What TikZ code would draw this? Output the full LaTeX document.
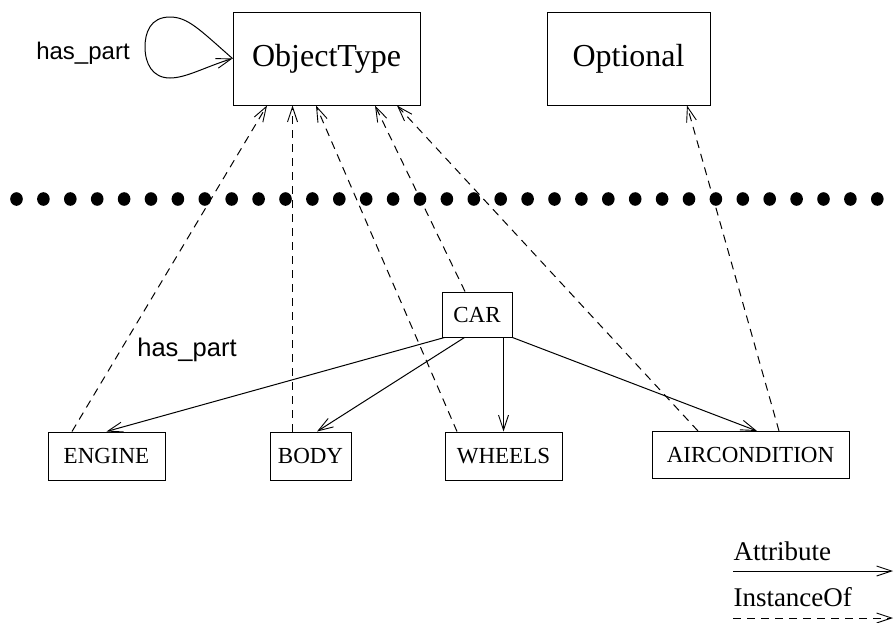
\documentclass[tikz,border=0pt]{standalone}
\usepackage{fontspec}
\setmainfont{Liberation Serif}
\newfontfamily\sanslab{Liberation Sans}
\usetikzlibrary{arrows.meta,calc}

\begin{document}
\begin{tikzpicture}[x=1pt,y=-1pt,
  line width=1pt,
  tip/.tip={Straight Barb[length=15pt,width=10pt,line width=0.9pt]},
  box/.style={draw, rectangle, inner sep=0pt, anchor=center},
  bigbox/.style={box, font=\fontsize{32}{36}\selectfont},
  smallbox/.style={box, font=\fontsize{23}{26}\selectfont},
  attr/.style={-tip},
  inst/.style={-tip, dash pattern=on 8pt off 6pt},
  lab/.style={font=\sanslab\fontsize{24}{27}\selectfont, inner sep=0pt},
  legtext/.style={font=\fontsize{27}{31}\selectfont, inner sep=0pt, anchor=west},
  dotmark/.style={fill=black, draw=none}
]
\useasboundingbox (0,0) rectangle (894,622);

% concept level
\node[bigbox, minimum width=187pt, minimum height=93pt] (obj) at (326.5,58.5) {ObjectType};
\node[bigbox, minimum width=163pt, minimum height=93pt] (opt) at (628.5,58.5) {Optional};

% self loop on ObjectType
\coordinate (lp) at (obj.west);
\node[lab] (hp1) at (83,53) {has\_part};
\draw[attr] (lp) .. controls (200,30) and (188,17) .. (170,17)
  .. controls (150,17) and (145,33) .. (145,47)
  .. controls (145,63) and (152,78) .. (170,78)
  .. controls (186,78) and (205,67) .. (lp);

% separator between levels
\foreach \i in {0,...,32}
  \fill[dotmark] (16.5+26.9*\i,199) ellipse [x radius=6.3pt, y radius=6.8pt];

% instance level
\node[smallbox, minimum width=70pt, minimum height=45pt] (car) at (477,314.5) {CAR};
\node[smallbox, minimum width=117pt, minimum height=48pt] (engine) at (106.5,456) {ENGINE};
\node[smallbox, minimum width=81pt, minimum height=48pt] (body) at (310.5,456) {BODY};
\node[smallbox, minimum width=117pt, minimum height=48pt] (wheels) at (503.5,456) {WHEELS};
\node[smallbox, minimum width=197pt, minimum height=47pt] (aircon) at (750.5,455) {AIRCONDITION};

\node[lab, font=\sanslab\fontsize{25.5}{28}\selectfont] (hp2) at (187,350) {has\_part};

% attributes of CAR
\draw[attr] ($(car.south west)+(3,0)$) -- (engine.north);
\draw[attr] ($(car.south west)+(23,0)$) -- ($(body.north)+(6.5,0)$);
\draw[attr] (wheels.north |- car.south) -- (wheels.north);
\draw[attr] (car.south east) -- ($(aircon.north)+(6.5,0)$);

% instance-of links
\coordinate (objb) at ($(obj.south)+(-34,0)$);
\draw[inst] ($(engine.north)+(-34.5,0)$) -- ($(obj.south)+(-59.5,0)$);
\draw[inst] (objb |- body.north) -- (objb);
\draw[inst] ($(wheels.north)+(-46.5,0)$) -- ($(obj.south)+(-10.5,0)$);
\draw[inst] ($(car.north)+(-12,0)$) -- ($(obj.south)+(48.5,0)$);
\draw[inst] ($(aircon.north)+(-52.5,0)$) -- ($(obj.south)+(70.5,0)$);
\draw[inst] ($(aircon.north)+(28.5,0)$) -- ($(opt.south)+(58.5,0)$);

% legend
\node[legtext] (la) at (733,551) {Attribute};
\coordinate (la1) at (733,571);
\coordinate (la2) at (893,571);
\draw[attr] (la1) -- (la2);
\node[legtext] (li) at (733,597) {InstanceOf};
\coordinate (li1) at (733,618);
\coordinate (li2) at (893,618);
\draw[inst] (li1) -- (li2);
\end{tikzpicture}
\end{document}
